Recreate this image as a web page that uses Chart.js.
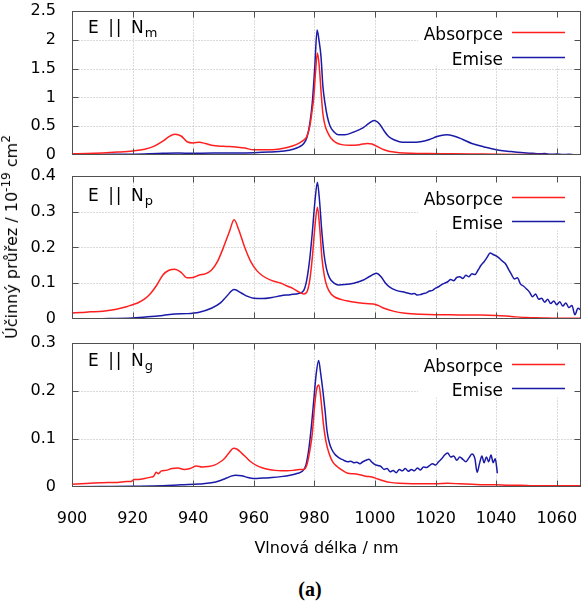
<!DOCTYPE html>
<html lang="cs">
<head>
<meta charset="utf-8">
<title>Účinný průřez</title>
<script src="https://cdn.jsdelivr.net/npm/chart.js@4.4.1/dist/chart.umd.min.js"></script>
<style>
  html, body { margin: 0; padding: 0; background: #fff; }
  body { position: relative; width: 582px; height: 607px; overflow: hidden; font-family: "DejaVu Sans", sans-serif; }
  canvas { position: absolute; left: 0; }
  #panel-m { top: 0; }
  #panel-p { top: 165px; }
  #panel-g { top: 330px; }
  #ytitle { position: absolute; left: 12px; top: 237px; transform: translate(-50%, -50%) rotate(-90deg); white-space: nowrap; font-size: 16px; line-height: 1; color: #000; }
  #ytitle sup { font-size: 12px; line-height: 0; vertical-align: 0.55em; }
  #caption { position: absolute; left: 310px; top: 578px; transform: translateX(-50%); font: bold 20px "Liberation Serif", serif; color: #000; }
</style>
</head>
<body>
<canvas id="panel-m" width="582" height="170"></canvas>
<canvas id="panel-p" width="582" height="170"></canvas>
<canvas id="panel-g" width="582" height="240"></canvas>
<div id="ytitle">Účinný průřez / 10<sup>-19</sup> cm<sup>2</sup></div>
<div id="caption">(a)</div>
<script>
// axes
const xTicks = [900, 920, 940, 960, 980, 1000, 1020, 1040, 1060];
const mTicks = [0, 0.5, 1, 1.5, 2, 2.5];
const pTicks = [0, 0.1, 0.2, 0.3, 0.4];
const gTicks = [0, 0.1, 0.2, 0.3];
const seriesNames = ["Absorpce", "Emise"];

// E || Nm
const mAbsX = [900, 905, 910, 915, 920, 924, 927, 930, 932, 934, 936, 938, 940, 942, 944, 946, 950, 954, 957, 960,
  964, 968, 971, 974, 976, 977.5, 978.5, 979.2, 979.8, 980.4, 981, 981.6, 982.2, 982.8, 983.6, 984.5, 985.5, 987, 989, 992,
  995, 997.5, 999, 1001, 1003, 1005, 1008, 1012, 1018, 1025, 1032, 1040, 1050, 1060, 1068];
const mAbsY = [0.02, 0.025, 0.035, 0.05, 0.07, 0.1, 0.15, 0.24, 0.32, 0.36, 0.33, 0.23, 0.21, 0.22, 0.2, 0.17, 0.15, 0.14, 0.12, 0.09,
  0.09, 0.1, 0.13, 0.18, 0.24, 0.32, 0.5, 0.75, 1.0, 1.45, 1.77, 1.55, 1.1, 0.72, 0.5, 0.38, 0.29, 0.22, 0.18, 0.17,
  0.18, 0.2, 0.19, 0.14, 0.09, 0.06, 0.04, 0.03, 0.025, 0.022, 0.018, 0.012, 0.008, 0.005, 0.004];
const mEmiX = [900, 910, 920, 930, 935, 940, 950, 960, 965, 970, 973, 975, 976.5, 977.5, 978.5, 979.3, 980.1, 980.9, 981.5, 982.2,
  982.8, 983.5, 984.3, 985.2, 986.5, 988, 990, 993, 996, 998, 999.7, 1001.5, 1003, 1004.5, 1006.5, 1009, 1012, 1015, 1018, 1020.5,
  1023.5, 1026, 1029, 1032, 1036, 1040, 1045, 1050, 1052, 1054, 1056, 1058, 1060, 1062, 1064, 1066, 1068];
const mEmiY = [0.005, 0.01, 0.015, 0.03, 0.035, 0.03, 0.035, 0.04, 0.05, 0.07, 0.1, 0.14, 0.2, 0.3, 0.55, 0.9, 1.5, 2.17, 2.0, 1.7,
  1.2, 0.9, 0.66, 0.5, 0.4, 0.35, 0.35, 0.4, 0.47, 0.55, 0.6, 0.54, 0.42, 0.32, 0.26, 0.22, 0.22, 0.23, 0.27, 0.32,
  0.35, 0.33, 0.27, 0.2, 0.14, 0.09, 0.06, 0.035, 0.03, 0.02, 0.025, 0.012, 0.018, 0.008, 0.012, 0.004, 0.006];

// E || Np
const pAbsX = [900, 903, 906, 909, 912, 915, 918, 920, 922, 924, 926, 928, 930, 932, 934, 936, 938, 940, 942, 944,
  946, 948, 950, 952, 953.5, 955, 957, 959, 961, 963, 966, 969, 971, 973, 975, 976.5, 977.5, 978.5, 979.3, 980.2,
  981, 981.8, 982.5, 983.3, 984.2, 985.5, 987, 989, 991, 994, 997, 999.5, 1001, 1003, 1006, 1010, 1015, 1020, 1025, 1030,
  1035, 1040, 1045, 1050, 1055, 1060, 1068];
const pAbsY = [0.017, 0.018, 0.02, 0.021, 0.024, 0.028, 0.034, 0.04, 0.046, 0.056, 0.072, 0.095, 0.123, 0.136, 0.139, 0.13, 0.115, 0.116, 0.123, 0.126,
  0.136, 0.16, 0.2, 0.245, 0.277, 0.25, 0.2, 0.16, 0.135, 0.12, 0.107, 0.1, 0.092, 0.085, 0.075, 0.07, 0.075, 0.11, 0.17, 0.26,
  0.312, 0.25, 0.17, 0.12, 0.09, 0.07, 0.06, 0.054, 0.05, 0.046, 0.043, 0.042, 0.038, 0.03, 0.022, 0.016, 0.013, 0.012, 0.012, 0.011,
  0.011, 0.01, 0.007, 0.004, 0.003, 0.002, 0.002];
const pEmiX = [900, 910, 920, 925, 930, 934, 938, 942, 946, 949, 951, 953.5, 956, 958, 960, 963, 966, 969, 972, 975,
  976.5, 977.5, 978.5, 979.3, 980.2, 981, 981.7, 982.4, 983.2, 984, 985, 986.5, 988, 990, 993, 996, 998.5, 1000.5, 1002, 1003.5,
  1005, 1007, 1010, 1011, 1012, 1013, 1014, 1015, 1016, 1017, 1018, 1019, 1020, 1021, 1022, 1023, 1024, 1025, 1026, 1027,
  1028, 1029, 1030, 1031, 1032, 1033, 1034, 1035, 1036, 1037, 1038, 1039, 1040, 1041, 1042, 1043, 1044, 1045, 1046, 1047,
  1048, 1049, 1050, 1051, 1052, 1053, 1054, 1055, 1056, 1057, 1058, 1059, 1060, 1061, 1062, 1063, 1064, 1065, 1066, 1067, 1068];
const pEmiY = [0.0, 0.001, 0.003, 0.006, 0.01, 0.014, 0.015, 0.019, 0.03, 0.045, 0.063, 0.082, 0.072, 0.063, 0.058, 0.057, 0.06, 0.065, 0.068, 0.072,
  0.08, 0.11, 0.17, 0.24, 0.33, 0.382, 0.33, 0.25, 0.18, 0.14, 0.115, 0.1, 0.095, 0.096, 0.1, 0.108, 0.12, 0.128, 0.118, 0.1,
  0.088, 0.08, 0.074, 0.072, 0.07, 0.071, 0.067, 0.068, 0.071, 0.073, 0.078, 0.08, 0.086, 0.09, 0.096, 0.1, 0.104, 0.11, 0.107, 0.116,
  0.118, 0.113, 0.122, 0.118, 0.126, 0.124, 0.136, 0.15, 0.16, 0.172, 0.184, 0.18, 0.176, 0.17, 0.162, 0.155, 0.14, 0.125, 0.112, 0.115,
  0.098, 0.092, 0.084, 0.075, 0.062, 0.07, 0.055, 0.058, 0.047, 0.055, 0.043, 0.05, 0.04, 0.048, 0.036, 0.045, 0.032, 0.038, 0.012, 0.03, 0.024];

// E || Ng
const gAbsX = [900, 903, 906, 909, 912, 915, 918, 919.5, 920.5, 922, 924, 926, 927, 927.8, 928.5, 929.5, 931, 933, 935, 937,
  939, 941, 943, 945, 947, 949, 950.5, 952, 953.3, 954.5, 956, 957.5, 959, 961, 963, 965, 967, 969, 971, 973,
  975, 976.5, 977.5, 978.5, 979.3, 980.1, 980.8, 981.5, 982.2, 983, 983.8, 984.8, 986, 987.5, 989, 991, 993, 995, 997, 999,
  1001, 1003, 1005, 1008, 1012, 1016, 1020, 1024, 1028, 1032, 1036, 1040, 1044, 1048, 1052, 1056, 1060, 1064, 1068];
const gAbsY = [0.005, 0.006, 0.007, 0.008, 0.009, 0.009, 0.011, 0.011, 0.015, 0.015, 0.017, 0.02, 0.022, 0.03, 0.027, 0.033, 0.034, 0.038, 0.039, 0.036,
  0.038, 0.043, 0.041, 0.042, 0.045, 0.052, 0.06, 0.072, 0.08, 0.078, 0.07, 0.061, 0.052, 0.044, 0.039, 0.036, 0.034, 0.033, 0.033, 0.034,
  0.036, 0.036, 0.045, 0.075, 0.11, 0.17, 0.205, 0.212, 0.18, 0.13, 0.095, 0.07, 0.052, 0.042, 0.035, 0.028, 0.027, 0.025, 0.022, 0.02,
  0.016, 0.012, 0.009, 0.007, 0.006, 0.006, 0.006, 0.007, 0.006, 0.005, 0.004, 0.004, 0.003, 0.003, 0.002, 0.002, 0.002, 0.002, 0.002];
const gEmiX = [900, 910, 920, 930, 936, 942, 946, 949, 951, 952.5, 954, 956, 958, 960, 963, 966, 969, 972, 974.5, 976,
  977.2, 978.2, 979, 979.8, 980.6, 981.4, 982.1, 982.8, 983.5, 984.2, 985, 985.8, 986.7, 987.7, 988.7, 989.5, 990, 991, 992, 993,
  994, 995, 996, 997, 998, 999, 1000, 1001, 1002, 1003, 1004, 1005, 1006, 1007, 1008, 1009, 1010, 1011, 1012, 1013,
  1014, 1015, 1016, 1017, 1018, 1019, 1020, 1021, 1022, 1023, 1024, 1025, 1026, 1027, 1028, 1029, 1030, 1031, 1032, 1033,
  1033.7, 1034.5, 1035.3, 1036, 1036.8, 1037.5, 1038.3, 1039, 1039.7, 1040.4];
const gEmiY = [0, 0.0005, 0.001, 0.002, 0.004, 0.0055, 0.008, 0.013, 0.018, 0.022, 0.024, 0.023, 0.019, 0.017, 0.018, 0.019, 0.021, 0.024, 0.028, 0.032,
  0.045, 0.08, 0.125, 0.18, 0.235, 0.263, 0.235, 0.2, 0.16, 0.115, 0.09, 0.077, 0.068, 0.062, 0.058, 0.056, 0.054, 0.052, 0.053, 0.05,
  0.051, 0.048, 0.052, 0.055, 0.057, 0.051, 0.046, 0.044, 0.042, 0.036, 0.038, 0.031, 0.034, 0.029, 0.036, 0.033, 0.038, 0.032, 0.036, 0.033,
  0.039, 0.035, 0.041, 0.04, 0.044, 0.048, 0.045, 0.052, 0.058, 0.066, 0.07, 0.062, 0.064, 0.055, 0.062, 0.057, 0.052, 0.06, 0.068, 0.058,
  0.03, 0.048, 0.064, 0.05, 0.062, 0.052, 0.066, 0.05, 0.058, 0.028];

const absColor = "#ff1f1f";
const emiColor = "#1a1aa8";
const fontFamily = "DejaVu Sans";

function toPoints(xs, ys) {
  return xs.map((x, i) => ({ x: x, y: ys[i] }));
}

function edges(a) {
  return {
    left: Math.round(a.left) + 0.5,
    right: Math.round(a.right) - 0.5,
    top: Math.round(a.top) + 0.5,
    bottom: Math.round(a.bottom) - 0.5
  };
}

// dotted grid, frame and inward tics on all four sides
const framePlugin = {
  id: "frame",
  beforeDatasetsDraw(chart) {
    const { ctx, chartArea, scales } = chart;
    const e = edges(chartArea);
    ctx.save();
    ctx.strokeStyle = "#b4b4b4";
    ctx.lineWidth = 1;
    ctx.setLineDash([1, 2]);
    ctx.beginPath();
    scales.x.ticks.forEach(t => {
      const px = Math.round(scales.x.getPixelForValue(t.value)) + 0.5;
      if (px <= e.left + 1 || px >= e.right - 1) return;
      ctx.moveTo(px, e.top); ctx.lineTo(px, e.bottom);
    });
    scales.y.ticks.forEach(t => {
      const py = Math.round(scales.y.getPixelForValue(t.value)) + 0.5;
      if (py <= e.top + 1 || py >= e.bottom - 1) return;
      ctx.moveTo(e.left, py); ctx.lineTo(e.right, py);
    });
    ctx.stroke();
    ctx.restore();
  },
  afterDatasetsDraw(chart) {
    const { ctx, chartArea, scales } = chart;
    const e = edges(chartArea);
    ctx.save();
    ctx.strokeStyle = "#505050";
    ctx.lineWidth = 1;
    ctx.beginPath();
    scales.x.ticks.forEach(t => {
      const px = Math.round(scales.x.getPixelForValue(t.value)) + 0.5;
      if (px <= e.left + 1 || px >= e.right - 1) return;
      ctx.moveTo(px, e.bottom); ctx.lineTo(px, e.bottom - 6);
      ctx.moveTo(px, e.top); ctx.lineTo(px, e.top + 6);
    });
    scales.y.ticks.forEach(t => {
      const py = Math.round(scales.y.getPixelForValue(t.value)) + 0.5;
      if (py <= e.top + 1 || py >= e.bottom - 1) return;
      ctx.moveTo(e.left, py); ctx.lineTo(e.left + 6, py);
      ctx.moveTo(e.right, py); ctx.lineTo(e.right - 6, py);
    });
    ctx.stroke();
    ctx.strokeRect(e.left, e.top, e.right - e.left, e.bottom - e.top);
    ctx.restore();
  }
};

// key box on the right and the polarisation label on the left
const keyPlugin = {
  id: "key",
  beforeDatasetsDraw(chart, args, opts) {
    const { ctx, chartArea: a } = chart;
    ctx.save();
    ctx.fillStyle = "#fff";
    ctx.fillRect(a.right - 163, a.top + 1, 161, 54);
    ctx.font = "17px \"" + fontFamily + "\"";
    ctx.textBaseline = "alphabetic";
    ctx.textAlign = "right";
    chart.data.datasets.forEach((ds, i) => {
      const rowY = Math.round(a.top + 21 + i * 24.5) + 0.5;
      ctx.fillStyle = "#000";
      ctx.fillText(ds.label, a.right - 78, rowY + 7);
      ctx.strokeStyle = ds.borderColor;
      ctx.lineWidth = 1.5;
      ctx.beginPath();
      ctx.moveTo(a.right - 69, rowY);
      ctx.lineTo(a.right - 16, rowY);
      ctx.stroke();
    });
    ctx.textAlign = "left";
    ctx.fillStyle = "#000";
    ctx.letterSpacing = "2px";
    const lx = a.left + 16, ly = a.top + opts.labelY;
    ctx.fillText("E || N", lx, ly);
    const w = ctx.measureText("E || N").width;
    ctx.letterSpacing = "0px";
    ctx.font = "13px \"" + fontFamily + "\"";
    ctx.fillText(opts.sub, lx + w - 1, ly + 4);
    ctx.restore();
  }
};

function createPanel(id, sub, yTicks, abs, emi, layout) {
  const bottomPanel = layout.showX;
  return new Chart(id, {
    type: "line",
    data: {
      datasets: [
        { label: seriesNames[0], data: toPoints(abs[0], abs[1]), borderColor: absColor, borderWidth: 1.5 },
        { label: seriesNames[1], data: toPoints(emi[0], emi[1]), borderColor: emiColor, borderWidth: 1.5 }
      ]
    },
    options: {
      responsive: false,
      animation: false,
      events: [],
      layout: { padding: { top: layout.top, bottom: layout.bottom, left: 0, right: 1 } },
      elements: {
        point: { radius: 0 },
        line: { cubicInterpolationMode: "monotone" }
      },
      plugins: {
        legend: { display: false },
        tooltip: { enabled: false },
        key: { sub: sub, labelY: layout.labelY }
      },
      scales: {
        x: {
          type: "linear",
          min: 900,
          max: 1068,
          afterBuildTicks: s => { s.ticks = xTicks.map(v => ({ value: v })); },
          afterFit: s => {
            s.height = layout.xHeight;
            s.paddingLeft = 0;
            s.paddingRight = 0;
          },
          grid: { display: false },
          border: { display: false },
          ticks: {
            display: bottomPanel,
            padding: 15,
            color: "#000",
            font: { family: fontFamily, size: 16 },
            maxRotation: 0,
            callback: v => String(v)
          },
          title: {
            display: bottomPanel,
            text: "Vlnová délka / nm",
            color: "#000",
            font: { family: fontFamily, size: 16 },
            padding: { top: 0, bottom: 12 }
          }
        },
        y: {
          min: 0,
          max: yTicks[yTicks.length - 1],
          afterBuildTicks: s => { s.ticks = yTicks.map(v => ({ value: v })); },
          afterFit: s => {
            s.width = 72;
            s.paddingTop = 0;
            s.paddingBottom = 0;
          },
          grid: { display: false },
          border: { display: false },
          ticks: {
            padding: 8,
            color: "#000",
            font: { family: fontFamily, size: 16 },
            callback: v => String(v)
          }
        }
      }
    },
    plugins: [framePlugin, keyPlugin]
  });
}

createPanel("panel-m", "m", mTicks, [mAbsX, mAbsY], [mEmiX, mEmiY],
  { top: 11, bottom: 15, xHeight: 0, labelY: 22.3, showX: false });
createPanel("panel-p", "p", pTicks, [pAbsX, pAbsY], [pEmiX, pEmiY],
  { top: 10.7, bottom: 16, xHeight: 0, labelY: 25, showX: false });
createPanel("panel-g", "g", gTicks, [gAbsX, gAbsY], [gEmiX, gEmiY],
  { top: 12.7, bottom: 0, xHeight: 83.3, labelY: 23, showX: true });
</script>
</body>
</html>
